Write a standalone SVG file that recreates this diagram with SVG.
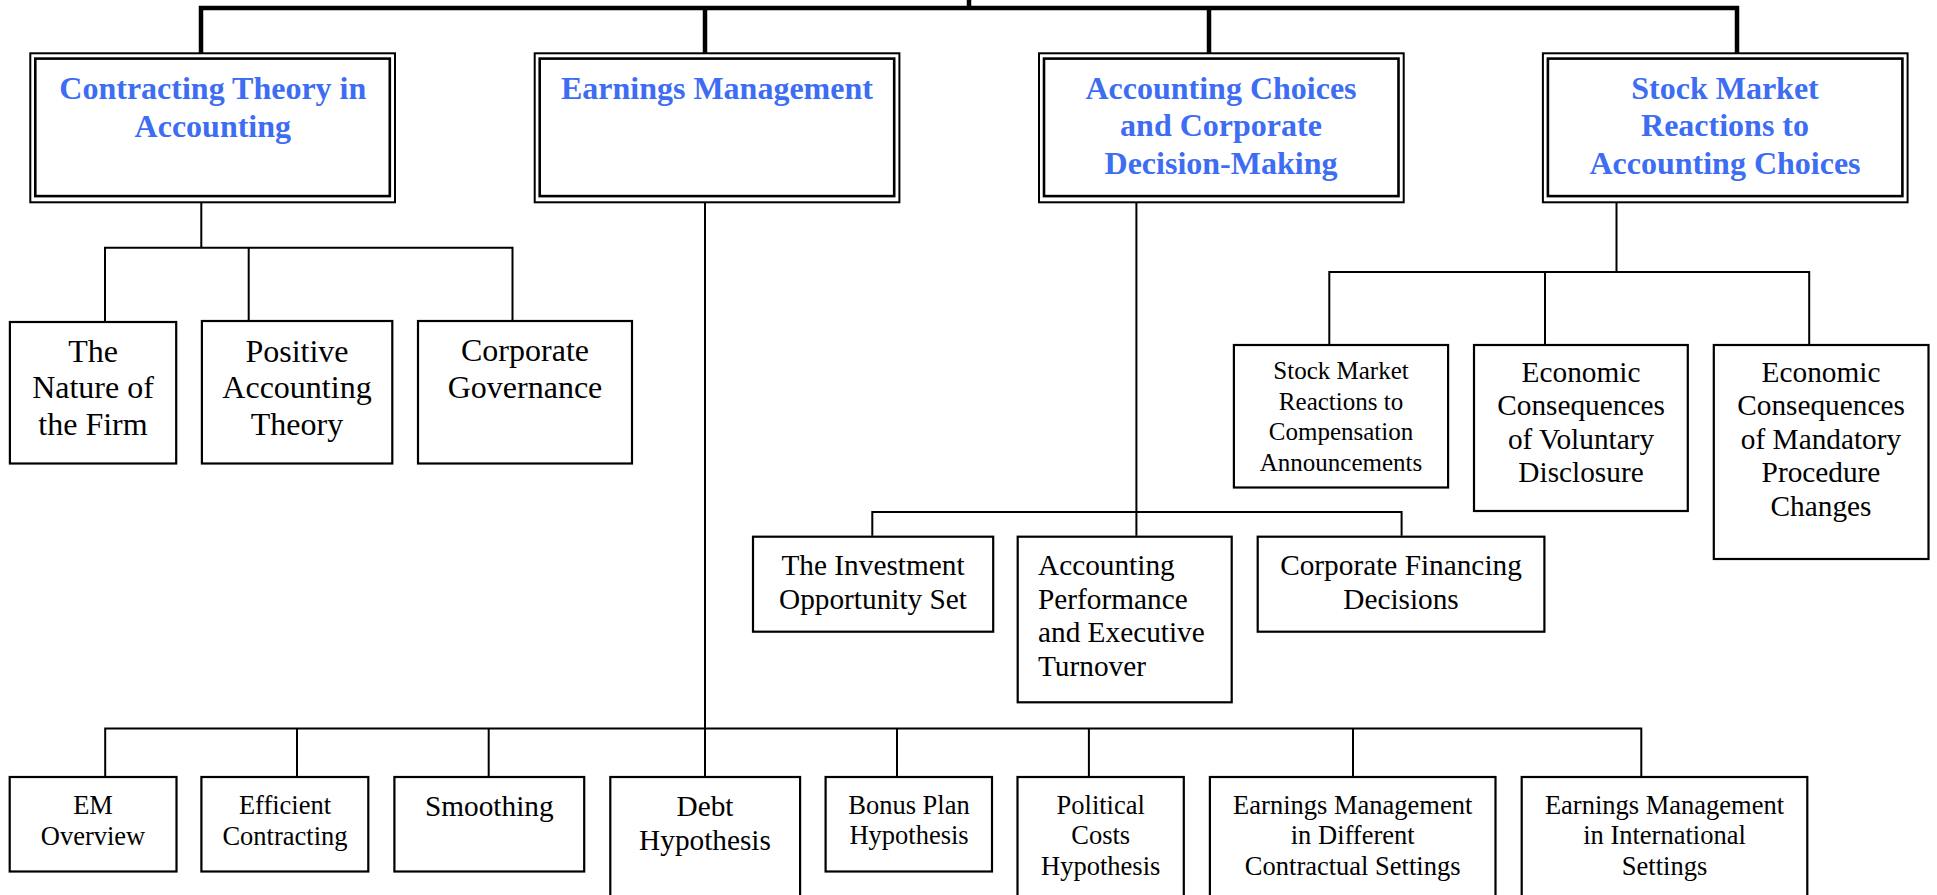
<svg xmlns="http://www.w3.org/2000/svg" width="1937" height="895" viewBox="0 0 1937 895">
<style>
.bg{fill:#ffffff}
.box{fill:#ffffff;stroke:#000;stroke-width:2.2}
.outer{fill:#ffffff;stroke:#000;stroke-width:2}
.inner{fill:none;stroke:#000;stroke-width:2.6}
.thick{fill:none;stroke:#000;stroke-width:4.5;stroke-linecap:square}
.thin{fill:none;stroke:#000;stroke-width:2}
.head{font-family:"Liberation Serif","Times New Roman",serif;font-weight:bold;font-size:32px;fill:#3d6df2;text-anchor:middle}
.t32{font-family:"Liberation Serif","Times New Roman",serif;font-size:32px;fill:#000;text-anchor:middle}
.t29{font-family:"Liberation Serif","Times New Roman",serif;font-size:29.3px;fill:#000;text-anchor:middle}
.t25{font-family:"Liberation Serif","Times New Roman",serif;font-size:25px;fill:#000;text-anchor:middle}
.t26{font-family:"Liberation Serif","Times New Roman",serif;font-size:26.5px;fill:#000;text-anchor:middle}
.left{text-anchor:start}
</style>
<rect class="bg" x="0" y="0" width="1937" height="895"/>

<g id="connectors">
  <path class="thick" d="M969 0 V8 M201 52 V8 H1737 V52 M705 8 V52 M1209 8 V52"/>
  <path class="thin" d="M201.3 203 V247.7 M105 321 V247.7 H512.5 V321 M248.7 247.7 V321"/>
  <path class="thin" d="M705 203 V776 M105.2 776 V728.5 H1641.3 V776 M297 728.5 V776 M488.7 728.5 V776 M897 728.5 V776 M1088.9 728.5 V776 M1353 728.5 V776"/>
  <path class="thin" d="M1136.4 203 V535.7 M872.3 535.7 V512 H1401.6 V535.7"/>
  <path class="thin" d="M1616.5 203 V272 M1329.3 344 V272 H1809.2 V344 M1545 272 V344"/>
</g>

<g id="n-contracting">
  <rect class="outer" x="30.3" y="53.3" width="364.7" height="149"/>
  <rect class="inner" x="35.3" y="58.6" width="354.5" height="137.5"/>
  <text class="head" x="212.8" y="99">Contracting Theory in</text>
  <text class="head" x="212.8" y="136.7">Accounting</text>
</g>
<g id="n-earnings">
  <rect class="outer" x="534.7" y="53.3" width="364.7" height="149"/>
  <rect class="inner" x="539.7" y="58.6" width="354.5" height="137.5"/>
  <text class="head" x="716.9" y="99">Earnings Management</text>
</g>
<g id="n-choices">
  <rect class="outer" x="1039" y="53.3" width="364.7" height="149"/>
  <rect class="inner" x="1044" y="58.6" width="354.5" height="137.5"/>
  <text class="head" x="1221" y="99">Accounting Choices</text>
  <text class="head" x="1221" y="136.3">and Corporate</text>
  <text class="head" x="1221" y="173.5">Decision-Making</text>
</g>
<g id="n-stock">
  <rect class="outer" x="1542.9" y="53.3" width="364.7" height="149"/>
  <rect class="inner" x="1547.9" y="58.6" width="354.5" height="137.5"/>
  <text class="head" x="1725" y="99">Stock Market</text>
  <text class="head" x="1725" y="136.3">Reactions to</text>
  <text class="head" x="1725" y="173.5">Accounting Choices</text>
</g>

<g id="n-nature">
  <rect class="box" x="9.9" y="322" width="166.3" height="141.5"/>
  <text class="t32" x="93" y="361.5">The</text>
  <text class="t32" x="93" y="398.3">Nature of</text>
  <text class="t32" x="93" y="435.1">the Firm</text>
</g>
<g id="n-positive">
  <rect class="box" x="201.9" y="321" width="190.4" height="142.5"/>
  <text class="t32" x="297" y="361.5">Positive</text>
  <text class="t32" x="297" y="398.3">Accounting</text>
  <text class="t32" x="297" y="435.1">Theory</text>
</g>
<g id="n-governance">
  <rect class="box" x="418" y="321" width="214" height="142.5"/>
  <text class="t32" x="525" y="361.2">Corporate</text>
  <text class="t32" x="525" y="397.8">Governance</text>
</g>

<g id="n-compensation">
  <rect class="box" x="1233.9" y="345" width="214.2" height="142.5"/>
  <text class="t25" x="1341" y="379">Stock Market</text>
  <text class="t25" x="1341" y="409.5">Reactions to</text>
  <text class="t25" x="1341" y="440">Compensation</text>
  <text class="t25" x="1341" y="470.5">Announcements</text>
</g>
<g id="n-voluntary">
  <rect class="box" x="1474" y="345" width="213.8" height="166"/>
  <text class="t29" x="1581" y="381.7">Economic</text>
  <text class="t29" x="1581" y="415.2">Consequences</text>
  <text class="t29" x="1581" y="448.7">of Voluntary</text>
  <text class="t29" x="1581" y="482.2">Disclosure</text>
</g>
<g id="n-mandatory">
  <rect class="box" x="1713.8" y="345" width="214.7" height="214"/>
  <text class="t29" x="1821" y="381.7">Economic</text>
  <text class="t29" x="1821" y="415.2">Consequences</text>
  <text class="t29" x="1821" y="448.7">of Mandatory</text>
  <text class="t29" x="1821" y="482.2">Procedure</text>
  <text class="t29" x="1821" y="515.7">Changes</text>
</g>

<g id="n-investment">
  <rect class="box" x="753" y="536.7" width="240.2" height="95"/>
  <text class="t29" x="873" y="575">The Investment</text>
  <text class="t29" x="873" y="609">Opportunity Set</text>
</g>
<g id="n-turnover">
  <rect class="box" x="1017.7" y="536.7" width="214" height="165.6"/>
  <text class="t29 left" x="1038" y="575">Accounting</text>
  <text class="t29 left" x="1038" y="608.5">Performance</text>
  <text class="t29 left" x="1038" y="642">and Executive</text>
  <text class="t29 left" x="1038" y="675.5">Turnover</text>
</g>
<g id="n-financing">
  <rect class="box" x="1257.7" y="536.7" width="286.7" height="95"/>
  <text class="t29" x="1401" y="575">Corporate Financing</text>
  <text class="t29" x="1401" y="609">Decisions</text>
</g>

<g id="n-overview">
  <rect class="box" x="9.7" y="777" width="166.8" height="94.5"/>
  <text class="t26" x="93" y="814">EM</text>
  <text class="t26" x="93" y="844.5">Overview</text>
</g>
<g id="n-efficient">
  <rect class="box" x="201.4" y="777" width="166.9" height="94.5"/>
  <text class="t26" x="285" y="814">Efficient</text>
  <text class="t26" x="285" y="844.5">Contracting</text>
</g>
<g id="n-smoothing">
  <rect class="box" x="394.4" y="777" width="189.8" height="94.5"/>
  <text class="t29" x="489.3" y="815.5">Smoothing</text>
</g>
<g id="n-debt">
  <rect class="box" x="610.3" y="777" width="189.8" height="130"/>
  <text class="t29" x="705" y="816">Debt</text>
  <text class="t29" x="705" y="849.5">Hypothesis</text>
</g>
<g id="n-bonus">
  <rect class="box" x="825.6" y="777" width="166.4" height="94.5"/>
  <text class="t26" x="909" y="813.5">Bonus Plan</text>
  <text class="t26" x="909" y="844">Hypothesis</text>
</g>
<g id="n-political">
  <rect class="box" x="1017.5" y="777" width="166.3" height="130"/>
  <text class="t26" x="1100.7" y="813.5">Political</text>
  <text class="t26" x="1100.7" y="844">Costs</text>
  <text class="t26" x="1100.7" y="874.5">Hypothesis</text>
</g>
<g id="n-different">
  <rect class="box" x="1209.9" y="777" width="285.6" height="130"/>
  <text class="t26" x="1352.7" y="813.5">Earnings Management</text>
  <text class="t26" x="1352.7" y="844">in Different</text>
  <text class="t26" x="1352.7" y="874.5">Contractual Settings</text>
</g>
<g id="n-international">
  <rect class="box" x="1521.7" y="777" width="285.6" height="130"/>
  <text class="t26" x="1664.5" y="813.5">Earnings Management</text>
  <text class="t26" x="1664.5" y="844">in International</text>
  <text class="t26" x="1664.5" y="874.5">Settings</text>
</g>
</svg>
